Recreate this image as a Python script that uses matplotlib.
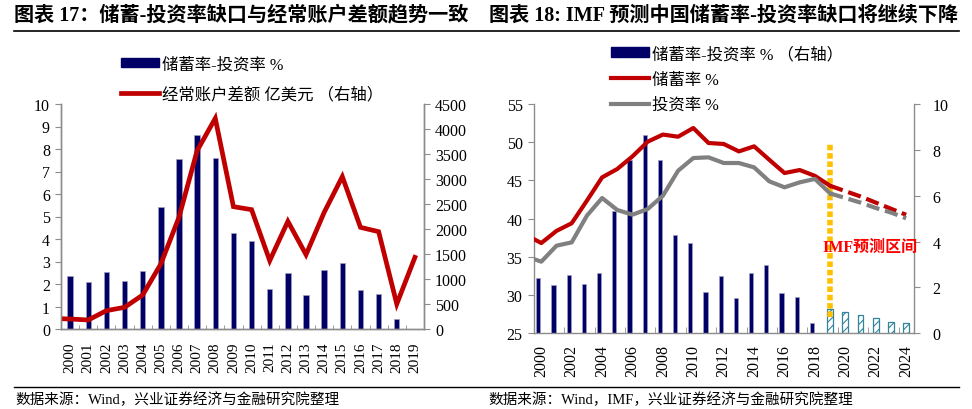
import matplotlib
matplotlib.use('Agg')
import matplotlib.pyplot as plt
import numpy as np
from matplotlib.lines import Line2D
from matplotlib.patches import Patch

FAM = ['Liberation Serif', 'Noto Sans CJK SC']
plt.rcParams['font.family'] = FAM
plt.rcParams['hatch.color'] = '#31859C'
plt.rcParams['hatch.linewidth'] = 0.8

# ---------------- data ----------------
# left chart
years_left = [str(y) for y in range(2000, 2020)]
gap_left = [2.37, 2.07, 2.52, 2.12, 2.59, 5.41, 7.56, 8.62, 7.59, 4.28,
            3.90, 1.78, 2.50, 1.53, 2.62, 2.95, 1.73, 1.54, 0.44]  # 2000-2018
ca_years = list(range(1999, 2020))
ca_balance = [211, 200, 180, 367, 433, 680, 1300, 2233, 3567, 4213, 2447,
              2387, 1367, 2153, 1487, 2333, 3047, 2033, 1947, 500, 1433]  # 1999-2019

# right chart
years_right = [str(y) for y in range(2000, 2025)]
gap_actual = [2.40, 2.11, 2.54, 2.15, 2.62, 5.35, 7.56, 8.65, 7.57, 4.30,
              3.92, 1.81, 2.51, 1.55, 2.64, 2.98, 1.74, 1.57, 0.45]  # 2000-2018
gap_forecast = [1.06, 0.92, 0.80, 0.67, 0.51, 0.44]  # 2019-2024
line_years = list(range(1999, 2020))
saving = [37.85, 36.81, 38.4, 39.4, 42.35, 45.4, 46.5, 48.15, 50.07, 51.0,
          50.72, 51.86, 49.9, 49.77, 48.8, 49.46, 47.7, 45.97, 46.36, 45.6, 44.3]
invest = [35.07, 34.37, 36.46, 36.9, 40.39, 42.7, 41.13, 40.52, 41.26, 43.0,
          46.27, 47.93, 48.02, 47.28, 47.28, 46.71, 44.88, 44.1, 44.75, 45.2, 43.3]
fc_years = list(range(2019, 2025))
saving_fc = [44.3, 43.6, 42.9, 42.1, 41.3, 40.5]
invest_fc = [43.3, 42.7, 42.1, 41.4, 40.8, 40.05]

NAVY = '#000066'
RED = '#C00000'
GRAY = '#808080'
SPINE = '#8c8c8c'

W, H = 972, 410
fig = plt.figure(figsize=(W / 100, H / 100), dpi=100)


def fx(x):
    return x / W


def fy(y):
    return 1 - y / H


def style_axes(a):
    a.spines['top'].set_visible(False)
    for s in ['left', 'right', 'bottom']:
        a.spines[s].set_color(SPINE)
        a.spines[s].set_linewidth(1.0)


# ---------------- left chart ----------------
ax1 = fig.add_axes([fx(61), fy(330), fx(424) - fx(61), fy(105) - fy(330)])
x1 = np.arange(len(gap_left))
ax1.bar(x1, gap_left, width=0.3, color=NAVY, edgecolor='#a0a0c0',
        linewidth=0.5, zorder=2)
ax1.set_xlim(-0.5, len(years_left) - 0.5)
ax1.set_ylim(0, 10)
ax1.set_yticks(range(0, 11))
ax1.set_xticks(np.arange(len(years_left)))
ax1.set_xticklabels(years_left, rotation=90)
ax1.set_xticks(np.arange(0.5, len(years_left) - 1, 1), minor=True)
ax1.tick_params(axis='x', which='major', length=0, pad=9, labelsize=11)
ax1.tick_params(axis='x', which='minor', length=3, direction='in', color=SPINE)
style_axes(ax1)

ax2 = ax1.twinx()
xca = np.array(ca_years) - 2000
ax2.plot(xca, ca_balance, color=RED, lw=3.4, solid_joinstyle='miter')
ax2.set_ylim(0, 4500)
ax2.set_yticks(range(0, 4501, 500))
ax2.set_xlim(-0.5, len(years_left) - 0.5)
style_axes(ax2)
ax1.tick_params(axis='y', length=4, direction='out', color=SPINE, labelsize=11.5, pad=4)
ax2.tick_params(axis='y', length=4, direction='out', color=SPINE, labelsize=11.5, pad=4)

fig.legend([Patch(facecolor=NAVY, edgecolor=NAVY), Line2D([], [], color=RED, lw=3.4)],
           ['储蓄率-投资率 %', '经常账户差额 亿美元 （右轴）'],
           loc='upper left', bbox_to_anchor=(fx(121), fy(57.5)), frameon=False,
           fontsize=11.8, handlelength=2.33, handletextpad=0.2, labelspacing=0.85,
           borderpad=0, borderaxespad=0, handleheight=0.52)

# ---------------- right chart ----------------
axR = fig.add_axes([fx(533.7), fy(334.3), fx(913.7) - fx(533.7), fy(105) - fy(334.3)])
xa = np.arange(len(gap_actual))
axR.bar(xa - 0.2, gap_actual, width=0.28, color=NAVY, edgecolor='#a0a0c0',
        linewidth=0.5, zorder=2)
xf = np.array(fc_years) - 2000
axR.bar(xf, gap_forecast, width=0.37, facecolor='white', edgecolor='#31859C',
        hatch='////', linewidth=0.9, zorder=2)
axR.set_xlim(-0.5, len(years_right) - 0.5)
axR.set_ylim(0, 10)
axR.set_yticks(range(0, 11, 2))
axR.set_xticks(np.arange(0, len(years_right), 2))
axR.set_xticklabels(years_right[::2], rotation=90)
axR.set_xticks(np.arange(1.5, len(years_right) - 1, 2), minor=True)
axR.tick_params(axis='x', which='major', length=0, pad=7.5, labelsize=11.5)
axR.tick_params(axis='x', which='minor', length=4, direction='in', color=SPINE)
style_axes(axR)

axL = axR.twinx()
xl = np.array(line_years) - 2000
axL.vlines(19, 27.1, 50.07, colors='#FFC000', linewidth=4.0,
           linestyles=(0, (1.0, 0.5)), zorder=1)
axL.plot(xl, saving, color=RED, lw=3.0, zorder=3)
axL.plot(xl, invest, color=GRAY, lw=3.0, zorder=3)
axL.plot(xf, saving_fc, color=RED, lw=3.0, dashes=(3.2, 1.4), zorder=3)
axL.plot(xf, invest_fc, color=GRAY, lw=3.0, dashes=(3.2, 1.4), zorder=3)
axL.set_ylim(25, 55)
axL.set_yticks(range(25, 56, 5))
axL.set_xlim(-0.5, len(years_right) - 0.5)
for s in axL.spines.values():
    s.set_visible(False)
axL.text(18.5, 36.3, 'IMF预测区间', color='#FF0000', fontweight='bold',
         fontsize=11.5, va='center', ha='left', zorder=5)

# put bar axis ticks on the right, line axis ticks on the left (after twinx)
axR.yaxis.tick_right()
axR.yaxis.set_label_position('right')
axL.yaxis.tick_left()
axL.yaxis.set_label_position('left')
axR.tick_params(axis='y', which='both', left=False, labelleft=False, right=True,
                labelright=True, length=4.5, direction='out', color=SPINE,
                labelsize=11.5, pad=9)
axL.tick_params(axis='y', which='both', right=False, labelright=False, left=True,
                labelleft=True, length=4, direction='out', color=SPINE,
                labelsize=11.5, pad=4)

fig.legend([Patch(facecolor=NAVY, edgecolor=NAVY), Line2D([], [], color=RED, lw=3.0),
            Line2D([], [], color=GRAY, lw=3.0)],
           ['储蓄率-投资率 % （右轴）', '储蓄率 %', '投资率 %'],
           loc='upper left', bbox_to_anchor=(fx(610.5), fy(47)), frameon=False,
           fontsize=11.8, handlelength=2.33, handletextpad=0.2, labelspacing=0.58,
           borderpad=0, borderaxespad=0, handleheight=0.52)

# ---------------- titles, rules, sources ----------------
fig.text(fx(14), fy(15.5), '图表 17：储蓄-投资率缺口与经常账户差额趋势一致',
         fontsize=14.5, fontweight='bold', va='center', ha='left')
fig.text(fx(489), fy(15.5), '图表 18: IMF 预测中国储蓄率-投资率缺口将继续下降',
         fontsize=14.5, fontweight='bold', va='center', ha='left')
fig.add_artist(Line2D([fx(14), fx(959)], [fy(31.7), fy(31.7)], color='black', lw=1.2))
fig.add_artist(Line2D([fx(14), fx(959)], [fy(388.3), fy(388.3)], color='black', lw=1.0))
fig.text(fx(15), fy(399.5), '数据来源：Wind，兴业证券经济与金融研究院整理',
         fontsize=10.5, va='center', ha='left')
fig.text(fx(488), fy(399.5), '数据来源：Wind，IMF，兴业证券经济与金融研究院整理',
         fontsize=10.5, va='center', ha='left')

fig.savefig('out.png', dpi=100)
